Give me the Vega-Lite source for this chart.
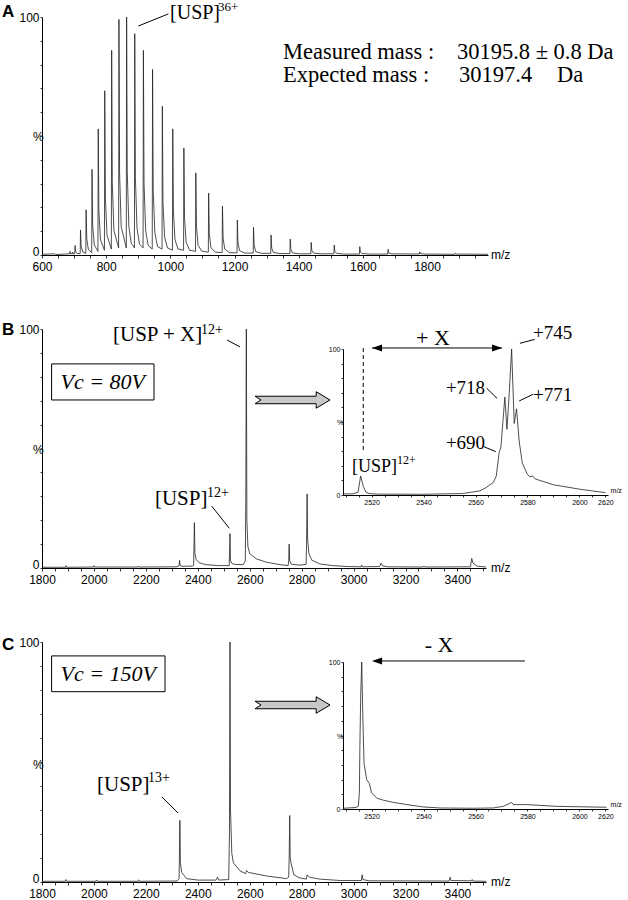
{
"$schema": "https://vega.github.io/schema/vega-lite/v6.json",
"width": 628, "height": 900, "autosize": {"type": "none"}, "padding": 0, "background": "white",
"config": {"view": {"stroke": null},
  "axis": {"grid": false, "domainColor": "#000", "domainWidth": 1, "tickColor": "#000", "tickWidth": 0.8, "labelColor": "#000", "labelFont": "Liberation Sans", "labelFontSize": 12, "labelFlush": false, "labelOverlap": false, "labelPadding": 1}},
"datasets": {
"specA": [
{"mz":600,"pct":0.3},{"mz":640,"pct":0.5},{"mz":642,"pct":0.2},{"mz":670,"pct":0.4},{"mz":686,"pct":0.5},{"mz":687.3,"pct":1.5},{"mz":689,"pct":0.5},{"mz":695,"pct":0.6},{"mz":696,"pct":1.2},{"mz":697,"pct":0.5},
{"mz":702,"pct":0.5},{"mz":703.2,"pct":4},{"mz":705,"pct":1.4},{"mz":710,"pct":0.6},
{"mz":719,"pct":0.6},{"mz":720,"pct":10.5},{"mz":722,"pct":3.7},{"mz":727,"pct":1.3},
{"mz":736.5,"pct":0.7},{"mz":737.5,"pct":19},{"mz":739.5,"pct":6.7},{"mz":744.5,"pct":2.3},
{"mz":754.9,"pct":1},{"mz":755.9,"pct":36},{"mz":757.9,"pct":12.6},{"mz":762.9,"pct":4.3},
{"mz":774.3,"pct":1.5},{"mz":775.3,"pct":53},{"mz":777.3,"pct":18.5},{"mz":782.3,"pct":6.4},
{"mz":794.6,"pct":2},{"mz":795.6,"pct":69},{"mz":797.6,"pct":24},{"mz":802.6,"pct":8.3},
{"mz":816.1,"pct":2.5},{"mz":817.1,"pct":86},{"mz":819.1,"pct":30},{"mz":824.1,"pct":10.3},
{"mz":838.8,"pct":3},{"mz":839.8,"pct":99},{"mz":841.8,"pct":34.6},{"mz":846.8,"pct":11.9},
{"mz":862.7,"pct":3},{"mz":863.7,"pct":100},{"mz":865.7,"pct":35},{"mz":870.7,"pct":12},{"mz":878,"pct":5},
{"mz":888.1,"pct":3},{"mz":889.1,"pct":93},{"mz":891.1,"pct":32.5},{"mz":896.1,"pct":11.2},{"mz":904,"pct":4.5},
{"mz":915,"pct":3},{"mz":916,"pct":86},{"mz":918,"pct":30},{"mz":923,"pct":10.3},{"mz":931,"pct":4},
{"mz":943.6,"pct":2.5},{"mz":944.6,"pct":78},{"mz":946.6,"pct":27.3},{"mz":951.6,"pct":9.4},{"mz":960,"pct":3.5},
{"mz":974.1,"pct":2.5},{"mz":975.1,"pct":62.5},{"mz":977.1,"pct":21.9},{"mz":982.1,"pct":7.5},{"mz":991,"pct":3},
{"mz":1006.5,"pct":2},{"mz":1007.5,"pct":53},{"mz":1009.5,"pct":18.5},{"mz":1014.5,"pct":6.4},{"mz":1024,"pct":2.5},
{"mz":1041.2,"pct":2},{"mz":1042.2,"pct":45},{"mz":1044.2,"pct":15.7},{"mz":1049.2,"pct":5.4},{"mz":1060,"pct":2},
{"mz":1078.4,"pct":1.5},{"mz":1079.4,"pct":34.5},{"mz":1081.4,"pct":12},{"mz":1086.4,"pct":4.1},{"mz":1098,"pct":1.6},
{"mz":1118.4,"pct":1.2},{"mz":1119.4,"pct":26},{"mz":1121.4,"pct":9.1},{"mz":1126.4,"pct":3.1},{"mz":1140,"pct":1.2},
{"mz":1161.4,"pct":1},{"mz":1162.4,"pct":20.5},{"mz":1164.4,"pct":7.2},{"mz":1169.4,"pct":2.5},{"mz":1184,"pct":1},
{"mz":1207.8,"pct":0.9},{"mz":1208.8,"pct":14.7},{"mz":1210.8,"pct":5.1},{"mz":1215.8,"pct":1.8},{"mz":1232,"pct":0.8},
{"mz":1258.2,"pct":0.8},{"mz":1259.2,"pct":11.6},{"mz":1261.2,"pct":4.1},{"mz":1266.2,"pct":1.4},{"mz":1284,"pct":0.7},
{"mz":1312.9,"pct":0.7},{"mz":1313.9,"pct":8.4},{"mz":1315.9,"pct":2.9},{"mz":1320.9,"pct":1.1},{"mz":1340,"pct":0.6},
{"mz":1372.6,"pct":0.6},{"mz":1373.6,"pct":6.7},{"mz":1375.6,"pct":2.3},{"mz":1380.6,"pct":0.9},{"mz":1400,"pct":0.5},
{"mz":1437.9,"pct":0.5},{"mz":1438.9,"pct":5.3},{"mz":1440.9,"pct":1.9},{"mz":1446,"pct":0.8},{"mz":1468,"pct":0.5},
{"mz":1509.8,"pct":0.5},{"mz":1510.8,"pct":4.2},{"mz":1512.8,"pct":1.5},{"mz":1518,"pct":0.7},{"mz":1540,"pct":0.4},
{"mz":1589.3,"pct":0.4},{"mz":1590.3,"pct":3.5},{"mz":1592.3,"pct":1.2},{"mz":1598,"pct":0.6},{"mz":1620,"pct":0.4},
{"mz":1677.6,"pct":0.4},{"mz":1678.6,"pct":2.4},{"mz":1680.6,"pct":0.9},{"mz":1688,"pct":0.5},
{"mz":1776.2,"pct":0.4},{"mz":1777.2,"pct":1.3},{"mz":1780,"pct":0.6},{"mz":1790,"pct":0.4},
{"mz":1887.3,"pct":0.3},{"mz":1888.3,"pct":0.8},{"mz":1892,"pct":0.4},{"mz":1990,"pct":0.3}
],
"specB": [
{"mz":1800,"pct":0.3},{"mz":1890,"pct":0.3},{"mz":1892,"pct":1},{"mz":1894,"pct":0.3},{"mz":1998,"pct":0.4},{"mz":2000,"pct":1},{"mz":2002,"pct":0.4},{"mz":2170,"pct":0.4},{"mz":2172,"pct":0.8},{"mz":2174,"pct":0.4},
{"mz":2320,"pct":0.5},{"mz":2328,"pct":1},{"mz":2330,"pct":3.2},{"mz":2332,"pct":1},{"mz":2340,"pct":0.7},
{"mz":2380,"pct":0.8},{"mz":2384,"pct":1},{"mz":2387,"pct":19},{"mz":2389,"pct":6},{"mz":2394,"pct":3.5},{"mz":2405,"pct":2.2},{"mz":2430,"pct":1.4},{"mz":2480,"pct":1},
{"mz":2521,"pct":1},{"mz":2524,"pct":14.4},{"mz":2526,"pct":3},{"mz":2532,"pct":1.8},{"mz":2545,"pct":1.5},{"mz":2575,"pct":1.4},
{"mz":2583,"pct":3},{"mz":2585,"pct":30},{"mz":2586,"pct":70},{"mz":2587,"pct":100},{"mz":2589,"pct":20},{"mz":2593,"pct":9},{"mz":2600,"pct":6},{"mz":2626,"pct":3.8},{"mz":2665,"pct":2.4},{"mz":2717,"pct":1.4},
{"mz":2748,"pct":1},{"mz":2750,"pct":3},{"mz":2752,"pct":10},{"mz":2754,"pct":3},{"mz":2760,"pct":1.6},{"mz":2790,"pct":1.2},
{"mz":2817,"pct":1.5},{"mz":2819,"pct":10},{"mz":2821,"pct":31},{"mz":2823,"pct":12},{"mz":2828,"pct":6},{"mz":2840,"pct":3.2},{"mz":2870,"pct":1.7},{"mz":2920,"pct":1},{"mz":2980,"pct":0.6},
{"mz":3029,"pct":0.5},{"mz":3031,"pct":1.2},{"mz":3034,"pct":0.5},{"mz":3100,"pct":0.6},{"mz":3106,"pct":2},{"mz":3112,"pct":0.9},{"mz":3130,"pct":0.5},
{"mz":3268,"pct":0.4},{"mz":3271,"pct":0.8},{"mz":3274,"pct":0.4},{"mz":3450,"pct":0.5},{"mz":3455,"pct":4},{"mz":3460,"pct":2},{"mz":3475,"pct":0.8},{"mz":3510,"pct":0.4}
],
"specC": [
{"mz":1800,"pct":0.3},{"mz":1890,"pct":0.3},{"mz":1892,"pct":1},{"mz":1895,"pct":0.3},{"mz":2008,"pct":0.3},{"mz":2010,"pct":0.8},{"mz":2013,"pct":0.3},{"mz":2170,"pct":0.3},{"mz":2172,"pct":0.9},{"mz":2175,"pct":0.3},
{"mz":2320,"pct":0.4},{"mz":2328,"pct":1.5},{"mz":2331,"pct":25.7},{"mz":2333,"pct":8},{"mz":2338,"pct":4},{"mz":2357,"pct":1.4},{"mz":2400,"pct":0.8},{"mz":2470,"pct":0.8},{"mz":2476,"pct":2},{"mz":2480,"pct":0.8},
{"mz":2519,"pct":1},{"mz":2522,"pct":20},{"mz":2523,"pct":60},{"mz":2524,"pct":100},{"mz":2526,"pct":30},{"mz":2531,"pct":12},{"mz":2537,"pct":8},{"mz":2563,"pct":4.6},{"mz":2584,"pct":3.5},{"mz":2588,"pct":4.8},{"mz":2595,"pct":4},{"mz":2665,"pct":2.5},{"mz":2742,"pct":1.4},
{"mz":2750,"pct":2},{"mz":2752,"pct":10},{"mz":2754,"pct":27.7},{"mz":2756,"pct":10},{"mz":2759,"pct":8},{"mz":2770,"pct":3},{"mz":2790,"pct":1.8},
{"mz":2818,"pct":1.2},{"mz":2821,"pct":3},{"mz":2830,"pct":2},{"mz":2870,"pct":1.2},{"mz":2950,"pct":0.6},{"mz":3030,"pct":0.6},{"mz":3033,"pct":3},{"mz":3036,"pct":1},{"mz":3060,"pct":0.5},
{"mz":3368,"pct":0.4},{"mz":3372,"pct":2},{"mz":3375,"pct":0.6},{"mz":3455,"pct":0.5},{"mz":3457,"pct":1},{"mz":3460,"pct":0.4},{"mz":3510,"pct":0.3}
],
"insetB": [
{"mz":2509,"pct":0.8},{"mz":2513,"pct":0.8},{"mz":2514.8,"pct":2},{"mz":2515.8,"pct":13},{"mz":2516.8,"pct":6},{"mz":2517.8,"pct":2},{"mz":2519,"pct":1},{"mz":2522,"pct":0.6},{"mz":2540,"pct":0.5},{"mz":2555,"pct":1},
{"mz":2561.7,"pct":2.8},{"mz":2564,"pct":5},{"mz":2566.8,"pct":8.5},{"mz":2568,"pct":13},{"mz":2569.1,"pct":29},{"mz":2569.8,"pct":33},{"mz":2570.5,"pct":49},{"mz":2571.3,"pct":67},{"mz":2572.1,"pct":45},{"mz":2573,"pct":70},{"mz":2573.9,"pct":100},{"mz":2574.9,"pct":49},{"mz":2575.8,"pct":59},{"mz":2576.8,"pct":37},{"mz":2578,"pct":22},{"mz":2580,"pct":14},{"mz":2581,"pct":12.5},{"mz":2582,"pct":13},{"mz":2583,"pct":11},{"mz":2590,"pct":7},{"mz":2600,"pct":4},{"mz":2610,"pct":1.6}
],
"insetC": [
{"mz":2509,"pct":0.5},{"mz":2514,"pct":1},{"mz":2514.9,"pct":2},{"mz":2515.3,"pct":11},{"mz":2515.5,"pct":42},{"mz":2515.8,"pct":76},{"mz":2516.2,"pct":100},{"mz":2516.6,"pct":65},{"mz":2517.1,"pct":31},{"mz":2518.1,"pct":20},{"mz":2519.1,"pct":17.6},{"mz":2520,"pct":11},{"mz":2522,"pct":7.4},{"mz":2524.5,"pct":6},{"mz":2528.4,"pct":4.5},{"mz":2533.5,"pct":3},{"mz":2539.9,"pct":1.4},{"mz":2546.3,"pct":0.7},{"mz":2559.1,"pct":0.5},{"mz":2566.8,"pct":0.7},{"mz":2570.7,"pct":1.8},{"mz":2573.9,"pct":4.5},{"mz":2574.5,"pct":3},{"mz":2579.7,"pct":3},{"mz":2591.2,"pct":1.8},{"mz":2610.4,"pct":1.2}
]
},
"layer": [
  {"data": {"name": "specA"}, "mark": {"type": "line", "color": "#222", "strokeWidth": 0.8},
   "encoding": {
    "x": {"field": "mz", "type": "quantitative", "scale": {"domain": [600,1990], "range": [42,488], "nice": false, "zero": false},
      "axis": {"orient": "bottom", "offset": -645, "title": null, "format": "d", "tickSize": 3, "labelPadding": 3, "values": [600,650,700,750,800,850,900,950,1000,1050,1100,1150,1200,1250,1300,1350,1400,1450,1500,1550,1600,1650,1700,1750,1800,1850,1900,1950], "labelExpr": "datum.value % 200 === 0 ? datum.label : ''"}},
    "y": {"field": "pct", "type": "quantitative", "scale": {"domain": [0,100], "range": [255,17], "nice": false, "zero": false},
      "axis": {"orient": "left", "offset": -42, "title": null, "tickSize": 2, "labelBaseline": {"condition": {"test": "datum.value === 0", "value": "alphabetic"}, "value": "middle"}, "values": [0,10,20,30,40,50,60,70,80,90,100], "labelExpr": "datum.value === 0 || datum.value === 100 ? datum.label : ''"}}}},
  {"data": {"values": [{"x": 999, "y": 101.5, "label": "[USP]"}]},
   "mark": {"type": "text", "font": "Liberation Serif", "fontSize": 20, "align": "left", "baseline": "middle", "color": "#000"},
   "encoding": {"x": {"field": "x", "type": "quantitative", "scale": {"domain": [600,1990], "range": [42,488], "nice": false, "zero": false}, "axis": null},
    "y": {"field": "y", "type": "quantitative", "scale": {"domain": [0,100], "range": [255,17], "nice": false, "zero": false}, "axis": null},
    "text": {"field": "label", "type": "nominal"}}},
  {"data": {"values": [{"x": 1148.5, "y": 104, "label": "36+"}]},
   "mark": {"type": "text", "font": "Liberation Serif", "fontSize": 13, "align": "left", "baseline": "middle", "color": "#000"},
   "encoding": {"x": {"field": "x", "type": "quantitative", "scale": {"domain": [600,1990], "range": [42,488], "nice": false, "zero": false}, "axis": null},
    "y": {"field": "y", "type": "quantitative", "scale": {"domain": [0,100], "range": [255,17], "nice": false, "zero": false}, "axis": null},
    "text": {"field": "label", "type": "nominal"}}},
  {"data": {"values": [{"x": 900, "y": 96.2, "x2": 994, "y2": 101.3}]},
   "mark": {"type": "rule", "color": "#000", "strokeWidth": 1},
   "encoding": {"x": {"field": "x", "type": "quantitative", "scale": {"domain": [600,1990], "range": [42,488], "nice": false, "zero": false}, "axis": null},
    "y": {"field": "y", "type": "quantitative", "scale": {"domain": [0,100], "range": [255,17], "nice": false, "zero": false}, "axis": null},
    "x2": {"field": "x2"}, "y2": {"field": "y2"}}},
  {"data": {"values": [{"x": 1351, "y": 82.4, "label": "Measured mass :"}, {"x": 1893, "y": 82.4, "label": "30195.8 ± 0.8 Da"}, {"x": 1351, "y": 72.7, "label": "Expected mass :"}, {"x": 1900, "y": 72.7, "label": "30197.4"}, {"x": 2205, "y": 72.7, "label": "Da"}]},
   "mark": {"type": "text", "font": "Liberation Serif", "fontSize": 22.5, "align": "left", "baseline": "alphabetic", "color": "#000"},
   "encoding": {"x": {"field": "x", "type": "quantitative", "scale": {"domain": [600,1990], "range": [42,488], "nice": false, "zero": false}, "axis": null},
    "y": {"field": "y", "type": "quantitative", "scale": {"domain": [0,100], "range": [255,17], "nice": false, "zero": false}, "axis": null},
    "text": {"field": "label", "type": "nominal"}}},
  {"data": {"values": [{"x": 572, "y": 49.6, "label": "%"}, {"x": 1999, "y": 0, "label": "m/z"}]},
   "mark": {"type": "text", "font": "Liberation Sans", "fontSize": 12, "align": "left", "baseline": "middle", "color": "#000"},
   "encoding": {"x": {"field": "x", "type": "quantitative", "scale": {"domain": [600,1990], "range": [42,488], "nice": false, "zero": false}, "axis": null},
    "y": {"field": "y", "type": "quantitative", "scale": {"domain": [0,100], "range": [255,17], "nice": false, "zero": false}, "axis": null},
    "text": {"field": "label", "type": "nominal"}}},
  {"data": {"values": [{"x": 475, "y": 102.3, "label": "A"}]},
   "mark": {"type": "text", "font": "Liberation Sans", "fontWeight": "bold", "fontSize": 17, "align": "left", "baseline": "middle", "color": "#000"},
   "encoding": {"x": {"field": "x", "type": "quantitative", "scale": {"domain": [600,1990], "range": [42,488], "nice": false, "zero": false}, "axis": null},
    "y": {"field": "y", "type": "quantitative", "scale": {"domain": [0,100], "range": [255,17], "nice": false, "zero": false}, "axis": null},
    "text": {"field": "label", "type": "nominal"}}},

  {"data": {"name": "specB"}, "mark": {"type": "line", "color": "#222", "strokeWidth": 0.8},
   "encoding": {
    "x": {"field": "mz", "type": "quantitative", "scale": {"domain": [1800,3510], "range": [42,486], "nice": false, "zero": false},
      "axis": {"orient": "bottom", "offset": -332, "title": null, "format": "d", "tickSize": 3, "labelPadding": 3, "values": [1800,1850,1900,1950,2000,2050,2100,2150,2200,2250,2300,2350,2400,2450,2500,2550,2600,2650,2700,2750,2800,2850,2900,2950,3000,3050,3100,3150,3200,3250,3300,3350,3400,3450,3500], "labelExpr": "datum.value % 200 === 0 ? datum.label : ''"}},
    "y": {"field": "pct", "type": "quantitative", "scale": {"domain": [0,100], "range": [568,329], "nice": false, "zero": false},
      "axis": {"orient": "left", "offset": -42, "title": null, "tickSize": 2, "labelBaseline": {"condition": {"test": "datum.value === 0", "value": "alphabetic"}, "value": "middle"}, "values": [0,10,20,30,40,50,60,70,80,90,100], "labelExpr": "datum.value === 0 || datum.value === 100 ? datum.label : ''"}}}},
  {"data": {"values": [{"x": 2073.5, "y": 97.5, "label": "[USP + X]"}, {"x": 2235, "y": 28.9, "label": "[USP]"}]},
   "mark": {"type": "text", "font": "Liberation Serif", "fontSize": 21, "align": "left", "baseline": "middle", "color": "#000"},
   "encoding": {"x": {"field": "x", "type": "quantitative", "scale": {"domain": [1800,3510], "range": [42,486], "nice": false, "zero": false}, "axis": null},
    "y": {"field": "y", "type": "quantitative", "scale": {"domain": [0,100], "range": [568,329], "nice": false, "zero": false}, "axis": null},
    "text": {"field": "label", "type": "nominal"}}},
  {"data": {"values": [{"x": 2412.5, "y": 99.6, "label": "12+"}, {"x": 2435.6, "y": 31.4, "label": "12+"}]},
   "mark": {"type": "text", "font": "Liberation Serif", "fontSize": 14, "align": "left", "baseline": "middle", "color": "#000"},
   "encoding": {"x": {"field": "x", "type": "quantitative", "scale": {"domain": [1800,3510], "range": [42,486], "nice": false, "zero": false}, "axis": null},
    "y": {"field": "y", "type": "quantitative", "scale": {"domain": [0,100], "range": [568,329], "nice": false, "zero": false}, "axis": null},
    "text": {"field": "label", "type": "nominal"}}},
  {"data": {"values": [{"x": 2512.6, "y": 95.4, "x2": 2562.7, "y2": 92.5}, {"x": 2453.6, "y": 25.9, "x2": 2521.5, "y2": 16.6}]},
   "mark": {"type": "rule", "color": "#000", "strokeWidth": 1},
   "encoding": {"x": {"field": "x", "type": "quantitative", "scale": {"domain": [1800,3510], "range": [42,486], "nice": false, "zero": false}, "axis": null},
    "y": {"field": "y", "type": "quantitative", "scale": {"domain": [0,100], "range": [568,329], "nice": false, "zero": false}, "axis": null},
    "x2": {"field": "x2"}, "y2": {"field": "y2"}}},
  {"data": {"values": [{"x": 1837, "y": 85.4, "x2": 2231.4, "y2": 70.3}]},
   "mark": {"type": "rect", "fill": "white", "stroke": "#000", "strokeWidth": 1},
   "encoding": {"x": {"field": "x", "type": "quantitative", "scale": {"domain": [1800,3510], "range": [42,486], "nice": false, "zero": false}, "axis": null},
    "y": {"field": "y", "type": "quantitative", "scale": {"domain": [0,100], "range": [568,329], "nice": false, "zero": false}, "axis": null},
    "x2": {"field": "x2"}, "y2": {"field": "y2"}}},
  {"data": {"values": [{"x": 2034, "y": 77.8, "label": "Vc = 80V"}]},
   "mark": {"type": "text", "font": "Liberation Serif", "fontStyle": "italic", "fontSize": 22, "align": "center", "baseline": "middle", "color": "#000"},
   "encoding": {"x": {"field": "x", "type": "quantitative", "scale": {"domain": [1800,3510], "range": [42,486], "nice": false, "zero": false}, "axis": null},
    "y": {"field": "y", "type": "quantitative", "scale": {"domain": [0,100], "range": [568,329], "nice": false, "zero": false}, "axis": null},
    "text": {"field": "label", "type": "nominal"}}},
  {"data": {"values": [{"x": 2765, "y": 70.3}]},
   "mark": {"type": "point", "shape": "M -1 -0.1 L 0.63 -0.1 L 0.63 -0.22 L 1 0 L 0.63 0.22 L 0.63 0.1 L -1 0.1 L -0.84 0 Z", "size": 5625, "filled": true, "fill": "#c8c8c8", "stroke": "#000", "strokeWidth": 1, "opacity": 1},
   "encoding": {"x": {"field": "x", "type": "quantitative", "scale": {"domain": [1800,3510], "range": [42,486], "nice": false, "zero": false}, "axis": null},
    "y": {"field": "y", "type": "quantitative", "scale": {"domain": [0,100], "range": [568,329], "nice": false, "zero": false}, "axis": null}}},
  {"data": {"values": [{"x": 1765, "y": 49.4, "label": "%"}, {"x": 3529.6, "y": 0, "label": "m/z"}]},
   "mark": {"type": "text", "font": "Liberation Sans", "fontSize": 12, "align": "left", "baseline": "middle", "color": "#000"},
   "encoding": {"x": {"field": "x", "type": "quantitative", "scale": {"domain": [1800,3510], "range": [42,486], "nice": false, "zero": false}, "axis": null},
    "y": {"field": "y", "type": "quantitative", "scale": {"domain": [0,100], "range": [568,329], "nice": false, "zero": false}, "axis": null},
    "text": {"field": "label", "type": "nominal"}}},
  {"data": {"values": [{"x": 1646, "y": 99.4, "label": "B"}]},
   "mark": {"type": "text", "font": "Liberation Sans", "fontWeight": "bold", "fontSize": 17, "align": "left", "baseline": "middle", "color": "#000"},
   "encoding": {"x": {"field": "x", "type": "quantitative", "scale": {"domain": [1800,3510], "range": [42,486], "nice": false, "zero": false}, "axis": null},
    "y": {"field": "y", "type": "quantitative", "scale": {"domain": [0,100], "range": [568,329], "nice": false, "zero": false}, "axis": null},
    "text": {"field": "label", "type": "nominal"}}},

  {"data": {"name": "insetB"}, "mark": {"type": "line", "color": "#222", "strokeWidth": 0.8},
   "encoding": {
    "x": {"field": "mz", "type": "quantitative", "scale": {"domain": [2509,2611], "range": [343,608], "nice": false, "zero": false},
      "axis": {"orient": "bottom", "offset": -405, "title": null, "format": "d", "tickSize": 2, "labelFontSize": 7, "values": [2510,2515,2520,2525,2530,2535,2540,2545,2550,2555,2560,2565,2570,2575,2580,2585,2590,2595,2600,2605,2610], "labelExpr": "datum.value === 2610 ? '2620' : (datum.value % 20 === 0 ? datum.label : '')"}},
    "y": {"field": "pct", "type": "quantitative", "scale": {"domain": [0,100], "range": [495,349], "nice": false, "zero": false},
      "axis": {"orient": "left", "offset": -343, "title": null, "tickSize": 2, "labelFontSize": 7, "values": [0,10,20,30,40,50,60,70,80,90,100], "labelExpr": "datum.value === 0 || datum.value === 100 ? datum.label : ''"}}}},
  {"data": {"values": [{"x": 2543.6, "y": 107.5, "label": "+ X"}]},
   "mark": {"type": "text", "font": "Liberation Serif", "fontSize": 22, "align": "center", "baseline": "middle", "color": "#000"},
   "encoding": {"x": {"field": "x", "type": "quantitative", "scale": {"domain": [2509,2611], "range": [343,608], "nice": false, "zero": false}, "axis": null},
    "y": {"field": "y", "type": "quantitative", "scale": {"domain": [0,100], "range": [495,349], "nice": false, "zero": false}, "axis": null},
    "text": {"field": "label", "type": "nominal"}}},
  {"data": {"values": [{"x": 2582.1, "y": 111, "label": "+745"}, {"x": 2548.6, "y": 73.3, "label": "+718"}, {"x": 2582.1, "y": 68.5, "label": "+771"}, {"x": 2548.6, "y": 35.6, "label": "+690"}]},
   "mark": {"type": "text", "font": "Liberation Serif", "fontSize": 19, "align": "left", "baseline": "middle", "color": "#000"},
   "encoding": {"x": {"field": "x", "type": "quantitative", "scale": {"domain": [2509,2611], "range": [343,608], "nice": false, "zero": false}, "axis": null},
    "y": {"field": "y", "type": "quantitative", "scale": {"domain": [0,100], "range": [495,349], "nice": false, "zero": false}, "axis": null},
    "text": {"field": "label", "type": "nominal"}}},
  {"data": {"values": [{"x": 2512.5, "y": 19.2, "label": "[USP]"}]},
   "mark": {"type": "text", "font": "Liberation Serif", "fontSize": 18, "align": "left", "baseline": "middle", "color": "#000"},
   "encoding": {"x": {"field": "x", "type": "quantitative", "scale": {"domain": [2509,2611], "range": [343,608], "nice": false, "zero": false}, "axis": null},
    "y": {"field": "y", "type": "quantitative", "scale": {"domain": [0,100], "range": [495,349], "nice": false, "zero": false}, "axis": null},
    "text": {"field": "label", "type": "nominal"}}},
  {"data": {"values": [{"x": 2529.8, "y": 24, "label": "12+"}]},
   "mark": {"type": "text", "font": "Liberation Serif", "fontSize": 12, "align": "left", "baseline": "middle", "color": "#000"},
   "encoding": {"x": {"field": "x", "type": "quantitative", "scale": {"domain": [2509,2611], "range": [343,608], "nice": false, "zero": false}, "axis": null},
    "y": {"field": "y", "type": "quantitative", "scale": {"domain": [0,100], "range": [495,349], "nice": false, "zero": false}, "axis": null},
    "text": {"field": "label", "type": "nominal"}}},
  {"data": {"values": [{"x": 2577.1, "y": 103.9, "x2": 2582.8, "y2": 106.6}, {"x": 2564.3, "y": 73.1, "x2": 2568.3, "y2": 66.2}, {"x": 2576.8, "y": 64.4, "x2": 2582.2, "y2": 69}, {"x": 2563.2, "y": 33.1, "x2": 2567.8, "y2": 29.7}, {"x": 2520.2, "y": 100.7, "x2": 2570.2, "y2": 100.7}]},
   "mark": {"type": "rule", "color": "#000", "strokeWidth": 1},
   "encoding": {"x": {"field": "x", "type": "quantitative", "scale": {"domain": [2509,2611], "range": [343,608], "nice": false, "zero": false}, "axis": null},
    "y": {"field": "y", "type": "quantitative", "scale": {"domain": [0,100], "range": [495,349], "nice": false, "zero": false}, "axis": null},
    "x2": {"field": "x2"}, "y2": {"field": "y2"}}},
  {"data": {"values": [{"x": 2516.8, "y": 100.7, "y2": 30.8}]},
   "mark": {"type": "rule", "color": "#000", "strokeWidth": 1, "strokeDash": [4, 3]},
   "encoding": {"x": {"field": "x", "type": "quantitative", "scale": {"domain": [2509,2611], "range": [343,608], "nice": false, "zero": false}, "axis": null},
    "y": {"field": "y", "type": "quantitative", "scale": {"domain": [0,100], "range": [495,349], "nice": false, "zero": false}, "axis": null},
    "y2": {"field": "y2"}}},
  {"data": {"values": [{"x": 2522.1, "y": 100.7}]},
   "mark": {"type": "point", "shape": "M -1 0 L 1 -0.7 L 1 0.7 Z", "size": 100, "filled": true, "color": "#000", "opacity": 1},
   "encoding": {"x": {"field": "x", "type": "quantitative", "scale": {"domain": [2509,2611], "range": [343,608], "nice": false, "zero": false}, "axis": null},
    "y": {"field": "y", "type": "quantitative", "scale": {"domain": [0,100], "range": [495,349], "nice": false, "zero": false}, "axis": null}}},
  {"data": {"values": [{"x": 2568.3, "y": 100.7}]},
   "mark": {"type": "point", "shape": "M 1 0 L -1 -0.7 L -1 0.7 Z", "size": 100, "filled": true, "color": "#000", "opacity": 1},
   "encoding": {"x": {"field": "x", "type": "quantitative", "scale": {"domain": [2509,2611], "range": [343,608], "nice": false, "zero": false}, "axis": null},
    "y": {"field": "y", "type": "quantitative", "scale": {"domain": [0,100], "range": [495,349], "nice": false, "zero": false}, "axis": null}}},
  {"data": {"values": [{"x": 2506.7, "y": 49, "label": "%"}, {"x": 2612, "y": 3, "label": "m/z"}]},
   "mark": {"type": "text", "font": "Liberation Sans", "fontSize": 7, "align": "left", "baseline": "middle", "color": "#000"},
   "encoding": {"x": {"field": "x", "type": "quantitative", "scale": {"domain": [2509,2611], "range": [343,608], "nice": false, "zero": false}, "axis": null},
    "y": {"field": "y", "type": "quantitative", "scale": {"domain": [0,100], "range": [495,349], "nice": false, "zero": false}, "axis": null},
    "text": {"field": "label", "type": "nominal"}}},

  {"data": {"name": "specC"}, "mark": {"type": "line", "color": "#222", "strokeWidth": 0.8},
   "encoding": {
    "x": {"field": "mz", "type": "quantitative", "scale": {"domain": [1800,3510], "range": [42,486], "nice": false, "zero": false},
      "axis": {"orient": "bottom", "offset": -18, "title": null, "format": "d", "tickSize": 3, "labelPadding": 3, "values": [1800,1850,1900,1950,2000,2050,2100,2150,2200,2250,2300,2350,2400,2450,2500,2550,2600,2650,2700,2750,2800,2850,2900,2950,3000,3050,3100,3150,3200,3250,3300,3350,3400,3450,3500], "labelExpr": "datum.value % 200 === 0 ? datum.label : ''"}},
    "y": {"field": "pct", "type": "quantitative", "scale": {"domain": [0,100], "range": [882,642], "nice": false, "zero": false},
      "axis": {"orient": "left", "offset": -42, "title": null, "tickSize": 2, "labelBaseline": {"condition": {"test": "datum.value === 0", "value": "alphabetic"}, "value": "middle"}, "values": [0,10,20,30,40,50,60,70,80,90,100], "labelExpr": "datum.value === 0 || datum.value === 100 ? datum.label : ''"}}}},
  {"data": {"values": [{"x": 2011.9, "y": 40.4, "label": "[USP]"}]},
   "mark": {"type": "text", "font": "Liberation Serif", "fontSize": 21, "align": "left", "baseline": "middle", "color": "#000"},
   "encoding": {"x": {"field": "x", "type": "quantitative", "scale": {"domain": [1800,3510], "range": [42,486], "nice": false, "zero": false}, "axis": null},
    "y": {"field": "y", "type": "quantitative", "scale": {"domain": [0,100], "range": [882,642], "nice": false, "zero": false}, "axis": null},
    "text": {"field": "label", "type": "nominal"}}},
  {"data": {"values": [{"x": 2208, "y": 43.3, "label": "13+"}]},
   "mark": {"type": "text", "font": "Liberation Serif", "fontSize": 14, "align": "left", "baseline": "middle", "color": "#000"},
   "encoding": {"x": {"field": "x", "type": "quantitative", "scale": {"domain": [1800,3510], "range": [42,486], "nice": false, "zero": false}, "axis": null},
    "y": {"field": "y", "type": "quantitative", "scale": {"domain": [0,100], "range": [882,642], "nice": false, "zero": false}, "axis": null},
    "text": {"field": "label", "type": "nominal"}}},
  {"data": {"values": [{"x": 2262, "y": 35.4, "x2": 2324, "y2": 28.75}]},
   "mark": {"type": "rule", "color": "#000", "strokeWidth": 1},
   "encoding": {"x": {"field": "x", "type": "quantitative", "scale": {"domain": [1800,3510], "range": [42,486], "nice": false, "zero": false}, "axis": null},
    "y": {"field": "y", "type": "quantitative", "scale": {"domain": [0,100], "range": [882,642], "nice": false, "zero": false}, "axis": null},
    "x2": {"field": "x2"}, "y2": {"field": "y2"}}},
  {"data": {"values": [{"x": 1837, "y": 94.2, "x2": 2273.8, "y2": 79.3}]},
   "mark": {"type": "rect", "fill": "white", "stroke": "#000", "strokeWidth": 1},
   "encoding": {"x": {"field": "x", "type": "quantitative", "scale": {"domain": [1800,3510], "range": [42,486], "nice": false, "zero": false}, "axis": null},
    "y": {"field": "y", "type": "quantitative", "scale": {"domain": [0,100], "range": [882,642], "nice": false, "zero": false}, "axis": null},
    "x2": {"field": "x2"}, "y2": {"field": "y2"}}},
  {"data": {"values": [{"x": 2055.4, "y": 86.7, "label": "Vc = 150V"}]},
   "mark": {"type": "text", "font": "Liberation Serif", "fontStyle": "italic", "fontSize": 22, "align": "center", "baseline": "middle", "color": "#000"},
   "encoding": {"x": {"field": "x", "type": "quantitative", "scale": {"domain": [1800,3510], "range": [42,486], "nice": false, "zero": false}, "axis": null},
    "y": {"field": "y", "type": "quantitative", "scale": {"domain": [0,100], "range": [882,642], "nice": false, "zero": false}, "axis": null},
    "text": {"field": "label", "type": "nominal"}}},
  {"data": {"values": [{"x": 2765, "y": 73.75}]},
   "mark": {"type": "point", "shape": "M -1 -0.1 L 0.63 -0.1 L 0.63 -0.22 L 1 0 L 0.63 0.22 L 0.63 0.1 L -1 0.1 L -0.84 0 Z", "size": 5625, "filled": true, "fill": "#c8c8c8", "stroke": "#000", "strokeWidth": 1, "opacity": 1},
   "encoding": {"x": {"field": "x", "type": "quantitative", "scale": {"domain": [1800,3510], "range": [42,486], "nice": false, "zero": false}, "axis": null},
    "y": {"field": "y", "type": "quantitative", "scale": {"domain": [0,100], "range": [882,642], "nice": false, "zero": false}, "axis": null}}},
  {"data": {"values": [{"x": 1765, "y": 48.75, "label": "%"}, {"x": 3529.6, "y": 0, "label": "m/z"}]},
   "mark": {"type": "text", "font": "Liberation Sans", "fontSize": 12, "align": "left", "baseline": "middle", "color": "#000"},
   "encoding": {"x": {"field": "x", "type": "quantitative", "scale": {"domain": [1800,3510], "range": [42,486], "nice": false, "zero": false}, "axis": null},
    "y": {"field": "y", "type": "quantitative", "scale": {"domain": [0,100], "range": [882,642], "nice": false, "zero": false}, "axis": null},
    "text": {"field": "label", "type": "nominal"}}},
  {"data": {"values": [{"x": 1646, "y": 98.75, "label": "C"}]},
   "mark": {"type": "text", "font": "Liberation Sans", "fontWeight": "bold", "fontSize": 17, "align": "left", "baseline": "middle", "color": "#000"},
   "encoding": {"x": {"field": "x", "type": "quantitative", "scale": {"domain": [1800,3510], "range": [42,486], "nice": false, "zero": false}, "axis": null},
    "y": {"field": "y", "type": "quantitative", "scale": {"domain": [0,100], "range": [882,642], "nice": false, "zero": false}, "axis": null},
    "text": {"field": "label", "type": "nominal"}}},

  {"data": {"name": "insetC"}, "mark": {"type": "line", "color": "#222", "strokeWidth": 0.8},
   "encoding": {
    "x": {"field": "mz", "type": "quantitative", "scale": {"domain": [2509,2611], "range": [343,608], "nice": false, "zero": false},
      "axis": {"orient": "bottom", "offset": -91, "title": null, "format": "d", "tickSize": 2, "labelFontSize": 7, "values": [2510,2515,2520,2525,2530,2535,2540,2545,2550,2555,2560,2565,2570,2575,2580,2585,2590,2595,2600,2605,2610], "labelExpr": "datum.value === 2610 ? '2620' : (datum.value % 20 === 0 ? datum.label : '')"}},
    "y": {"field": "pct", "type": "quantitative", "scale": {"domain": [0,100], "range": [809,662], "nice": false, "zero": false},
      "axis": {"orient": "left", "offset": -343, "title": null, "tickSize": 2, "labelFontSize": 7, "values": [0,10,20,30,40,50,60,70,80,90,100], "labelExpr": "datum.value === 0 || datum.value === 100 ? datum.label : ''"}}}},
  {"data": {"values": [{"x": 2546, "y": 111.3, "label": "- X"}]},
   "mark": {"type": "text", "font": "Liberation Serif", "fontSize": 22, "align": "center", "baseline": "middle", "color": "#000"},
   "encoding": {"x": {"field": "x", "type": "quantitative", "scale": {"domain": [2509,2611], "range": [343,608], "nice": false, "zero": false}, "axis": null},
    "y": {"field": "y", "type": "quantitative", "scale": {"domain": [0,100], "range": [809,662], "nice": false, "zero": false}, "axis": null},
    "text": {"field": "label", "type": "nominal"}}},
  {"data": {"values": [{"x": 2521, "y": 100.7, "x2": 2579, "y2": 100.7}]},
   "mark": {"type": "rule", "color": "#000", "strokeWidth": 1},
   "encoding": {"x": {"field": "x", "type": "quantitative", "scale": {"domain": [2509,2611], "range": [343,608], "nice": false, "zero": false}, "axis": null},
    "y": {"field": "y", "type": "quantitative", "scale": {"domain": [0,100], "range": [809,662], "nice": false, "zero": false}, "axis": null},
    "x2": {"field": "x2"}, "y2": {"field": "y2"}}},
  {"data": {"values": [{"x": 2522.1, "y": 100.7}]},
   "mark": {"type": "point", "shape": "M -1 0 L 1 -0.7 L 1 0.7 Z", "size": 100, "filled": true, "color": "#000", "opacity": 1},
   "encoding": {"x": {"field": "x", "type": "quantitative", "scale": {"domain": [2509,2611], "range": [343,608], "nice": false, "zero": false}, "axis": null},
    "y": {"field": "y", "type": "quantitative", "scale": {"domain": [0,100], "range": [809,662], "nice": false, "zero": false}, "axis": null}}},
  {"data": {"values": [{"x": 2506.7, "y": 49, "label": "%"}, {"x": 2612, "y": 3, "label": "m/z"}]},
   "mark": {"type": "text", "font": "Liberation Sans", "fontSize": 7, "align": "left", "baseline": "middle", "color": "#000"},
   "encoding": {"x": {"field": "x", "type": "quantitative", "scale": {"domain": [2509,2611], "range": [343,608], "nice": false, "zero": false}, "axis": null},
    "y": {"field": "y", "type": "quantitative", "scale": {"domain": [0,100], "range": [809,662], "nice": false, "zero": false}, "axis": null},
    "text": {"field": "label", "type": "nominal"}}}
],
"resolve": {"scale": {"x": "independent", "y": "independent"}, "axis": {"x": "independent", "y": "independent"}}
}
